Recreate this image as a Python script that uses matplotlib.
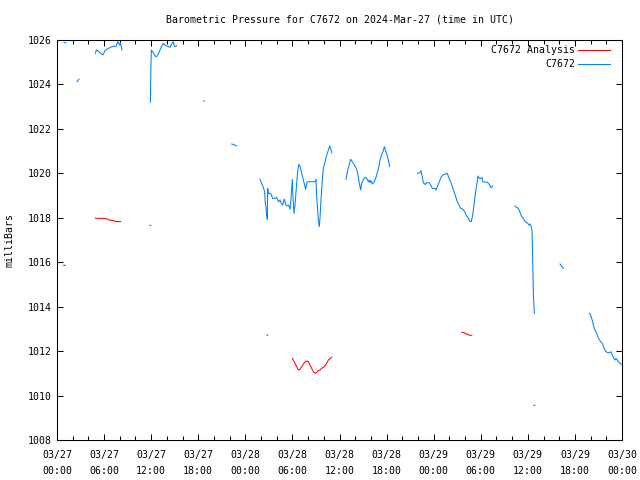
import numpy as np
import matplotlib
matplotlib.use("Agg")
import matplotlib.pyplot as plt
from matplotlib.ticker import MultipleLocator, FixedLocator

nan = np.nan

# Observed station pressure (hours since 2024-03-27 00:00 UTC), NaN = gap
obs_hours = [
    0.9, 1.15, nan,
    2.55, 2.80, nan,
    4.89, 5.01, 5.31, 5.73, 5.86, 6.16, 6.58, 7.01, 7.56, 7.73, 7.99, 8.07, 8.28, nan,
    11.90, 11.95, 12.02, 12.28, 12.49, 12.70, 12.91, 13.13, 13.34, 13.55, 13.76, 13.98,
    14.19, 14.40, 14.61, 14.83, 14.95, 15.12, 15.25, nan,
    18.68, 18.78, nan,
    22.26, 22.60, 22.90, nan,
    25.87, 26.08, 26.29, 26.46, 26.55, 26.63, 26.72, 26.80, 26.85, 26.93, 27.23, 27.48,
    27.78, 27.99, 28.21, 28.42, 28.55, 28.76, 28.84, 28.97, 29.18, 29.35, 29.52, 29.69,
    29.78, 29.91, 29.99, 30.07, 30.20, 30.33, 30.54, 30.67, 30.80, 30.97, 31.18, 31.39,
    31.60, 31.69, 31.82, 31.90, 32.88, 33.01, 33.09, 33.22, 33.30, 33.43, 33.52, 33.64,
    33.81, 33.94, 34.15, 34.37, 34.58, 34.75, 34.88, 35.00, nan,
    36.83, 37.00, 37.21, 37.42, 37.55, 37.76, 37.98, 38.19, 38.36, 38.49, 38.61, 38.70,
    38.78, 38.91, 39.04, 39.25, 39.46, 39.68, 39.80, 39.89, 40.02, 40.18, 40.40, 40.61,
    40.82, 41.03, 41.16, 41.37, 41.59, 41.71, 41.88, 42.10, 42.27, 42.39, nan,
    45.92, 46.26, 46.39, 46.51, 46.68, 46.90, 47.11, 47.41, 47.62, 47.83, 48.17, 48.30,
    48.51, 48.72, 48.94, 49.15, 49.45, 49.74, 49.96, 50.17, 50.38, 50.59, 50.81, 51.02,
    51.23, 51.44, 51.70, 51.95, 52.21, 52.42, 52.63, 52.80, 52.97, 53.18, 53.35, 53.52,
    53.65, 53.82, 53.99, 54.16, 54.25, 54.54, 54.84, 55.05, 55.31, 55.52, nan,
    58.37, 58.58, 58.79, 58.92, 59.09, 59.22, 59.43, 59.56, 59.77, 59.98, 60.15, 60.28,
    60.41, 60.53, 60.60, 60.70, 60.83, nan,
    64.10, 64.53, nan,
    67.84, 68.01, 68.14, 68.26, 68.35, 68.48, 68.65, 68.77, 68.90, 69.07, 69.20, 69.41,
    69.54, 69.71, 69.92, 70.13, 70.39, 70.60, 70.77, 70.98, 71.11, 71.24, 71.41, 71.53,
    71.75, 72.0,
]
obs_mbar = [
    1025.88, 1025.88, nan,
    1024.12, 1024.24, nan,
    1025.40, 1025.55, 1025.48, 1025.36, 1025.33, 1025.55, 1025.63, 1025.70, 1025.73, 1025.93, 1025.78, 1025.89, 1025.55, nan,
    1023.20, 1024.50, 1025.55, 1025.43, 1025.28, 1025.25, 1025.37, 1025.55, 1025.73, 1025.85, 1025.77, 1025.73,
    1025.70, 1025.67, 1025.82, 1025.92, 1025.73, 1025.70, 1025.75, nan,
    1023.25, 1023.25, nan,
    1021.32, 1021.28, 1021.23, nan,
    1019.73, 1019.55, 1019.37, 1019.17, 1018.62, 1018.50, 1018.12, 1017.93, 1019.32, 1019.10, 1019.10, 1018.87,
    1018.87, 1018.92, 1018.72, 1018.80, 1018.68, 1018.57, 1018.72, 1018.84, 1018.57, 1018.53, 1018.57, 1018.38,
    1018.68, 1019.37, 1019.73, 1018.95, 1018.20, 1018.57, 1019.55, 1020.07, 1020.40, 1020.30, 1020.00, 1019.70,
    1019.40, 1019.28, 1019.55, 1019.62, 1019.62, 1019.73, 1018.95, 1018.35, 1017.90, 1017.60, 1018.02, 1018.80,
    1019.70, 1020.22, 1020.52, 1020.82, 1021.05, 1021.23, 1021.12, 1020.93, nan,
    1019.73, 1020.07, 1020.37, 1020.63, 1020.57, 1020.45, 1020.33, 1020.18, 1019.92, 1019.62, 1019.40, 1019.25,
    1019.47, 1019.62, 1019.73, 1019.82, 1019.77, 1019.62, 1019.70, 1019.58, 1019.67, 1019.52, 1019.60, 1019.77,
    1020.03, 1020.30, 1020.60, 1020.82, 1021.02, 1021.20, 1021.02, 1020.78, 1020.52, 1020.30, nan,
    1020.00, 1020.03, 1020.12, 1019.92, 1019.58, 1019.50, 1019.58, 1019.58, 1019.47, 1019.32, 1019.32, 1019.25,
    1019.43, 1019.62, 1019.82, 1019.92, 1019.97, 1020.00, 1019.77, 1019.62, 1019.40, 1019.17, 1018.95, 1018.72,
    1018.57, 1018.42, 1018.39, 1018.27, 1018.08, 1017.98, 1017.83, 1017.83, 1018.12, 1018.72, 1019.17, 1019.55,
    1019.88, 1019.77, 1019.77, 1019.82, 1019.62, 1019.60, 1019.60, 1019.52, 1019.35, 1019.43, nan,
    1018.53, 1018.47, 1018.42, 1018.32, 1018.17, 1018.05, 1017.98, 1017.87, 1017.79, 1017.76, 1017.67, 1017.72,
    1017.63, 1017.45, 1016.47, 1014.60, 1013.70, nan,
    1015.92, 1015.72, nan,
    1013.70, 1013.62, 1013.47, 1013.32, 1013.17, 1013.02, 1012.87, 1012.80, 1012.65, 1012.54, 1012.47, 1012.38,
    1012.32, 1012.12, 1012.00, 1011.93, 1011.93, 1011.97, 1011.82, 1011.67, 1011.60, 1011.67, 1011.60, 1011.52,
    1011.45, 1011.40,
]

# Analysis pressure
ana_hours = [
    0.85, 1.05, nan,
    4.89, 6.25, 6.50, 6.70, 7.35, 7.50, 8.11, nan,
    11.85, 11.95, nan,
    26.75, 26.85, nan,
    29.99, 30.33, 30.54, 30.76, 30.97, 31.18, 31.39, 31.60, 31.82, 32.03, 32.24, 32.45,
    32.67, 32.88, 33.09, 33.30, 33.52, 33.73, 33.94, 34.15, 34.37, 34.58, 34.79, 35.00, nan,
    51.57, 51.90, 52.20, 52.50, 52.85, nan,
    60.78, 60.88,
]
ana_mbar = [
    1015.86, 1015.86, nan,
    1017.98, 1017.97, 1017.92, 1017.90, 1017.86, 1017.83, 1017.83, nan,
    1017.66, 1017.66, nan,
    1012.72, 1012.72, nan,
    1011.67, 1011.45, 1011.30, 1011.15, 1011.18, 1011.30, 1011.42, 1011.51, 1011.56, 1011.52, 1011.37, 1011.23,
    1011.07, 1011.00, 1011.04, 1011.12, 1011.15, 1011.23, 1011.27, 1011.34, 1011.45, 1011.60, 1011.67, 1011.72, nan,
    1012.85, 1012.82, 1012.77, 1012.72, 1012.71, nan,
    1009.56, 1009.56,
]

tick_hours = [0, 6, 12, 18, 24, 30, 36, 42, 48, 54, 60, 66, 72]
tick_labels = ["03/27\n00:00", "03/27\n06:00", "03/27\n12:00", "03/27\n18:00",
               "03/28\n00:00", "03/28\n06:00", "03/28\n12:00", "03/28\n18:00",
               "03/29\n00:00", "03/29\n06:00", "03/29\n12:00", "03/29\n18:00",
               "03/30\n00:00"]

FONT = "DejaVu Sans Mono"
FS = 7.15
plt.rcParams["font.family"] = FONT

fig = plt.figure(figsize=(6.4, 4.8), dpi=100)
ax = fig.add_axes([57/640, 40/480, 565/640, 400/480])

lw = 0.75
ax.plot(ana_hours, ana_mbar, color="#ff0000", lw=lw, label="C7672 Analysis")
ax.plot(obs_hours, obs_mbar, color="#0080ff", lw=lw, label="C7672")

ax.set_xlim(0, 72)
ax.set_ylim(1008, 1026)
ax.xaxis.set_major_locator(FixedLocator(tick_hours))
ax.set_xticklabels(tick_labels, fontsize=FS, linespacing=1.7)
ax.xaxis.set_minor_locator(MultipleLocator(2))
ax.yaxis.set_major_locator(MultipleLocator(2))
for lab in ax.get_yticklabels():
    lab.set_fontsize(FS)
ax.tick_params(axis="both", which="both", direction="in", top=True, right=True,
               width=0.75, color="black")
ax.tick_params(axis="both", which="major", length=4.3)
ax.tick_params(axis="both", which="minor", length=3.0)
ax.tick_params(axis="x", which="major", pad=7.5, labelsize=FS)
ax.tick_params(axis="y", which="major", pad=3.5, labelsize=FS)
for s in ax.spines.values():
    s.set_linewidth(0.75)

leg = ax.legend(loc="upper right", bbox_to_anchor=((610 - 57) / 565, (440 - 45) / 400),
                frameon=False, markerfirst=False, fontsize=FS,
                handlelength=3.2, handletextpad=0.3, labelspacing=0.42,
                borderaxespad=0.0, borderpad=0.0)

fig.text(339.5/640, 1 - 19/480, "Barometric Pressure for C7672 on 2024-Mar-27 (time in UTC)",
         ha="center", va="center", fontsize=FS)
fig.text(10/640, 0.5, "milliBars", rotation=90, ha="center", va="center", fontsize=FS)

fig.savefig("out.png", dpi=100)
